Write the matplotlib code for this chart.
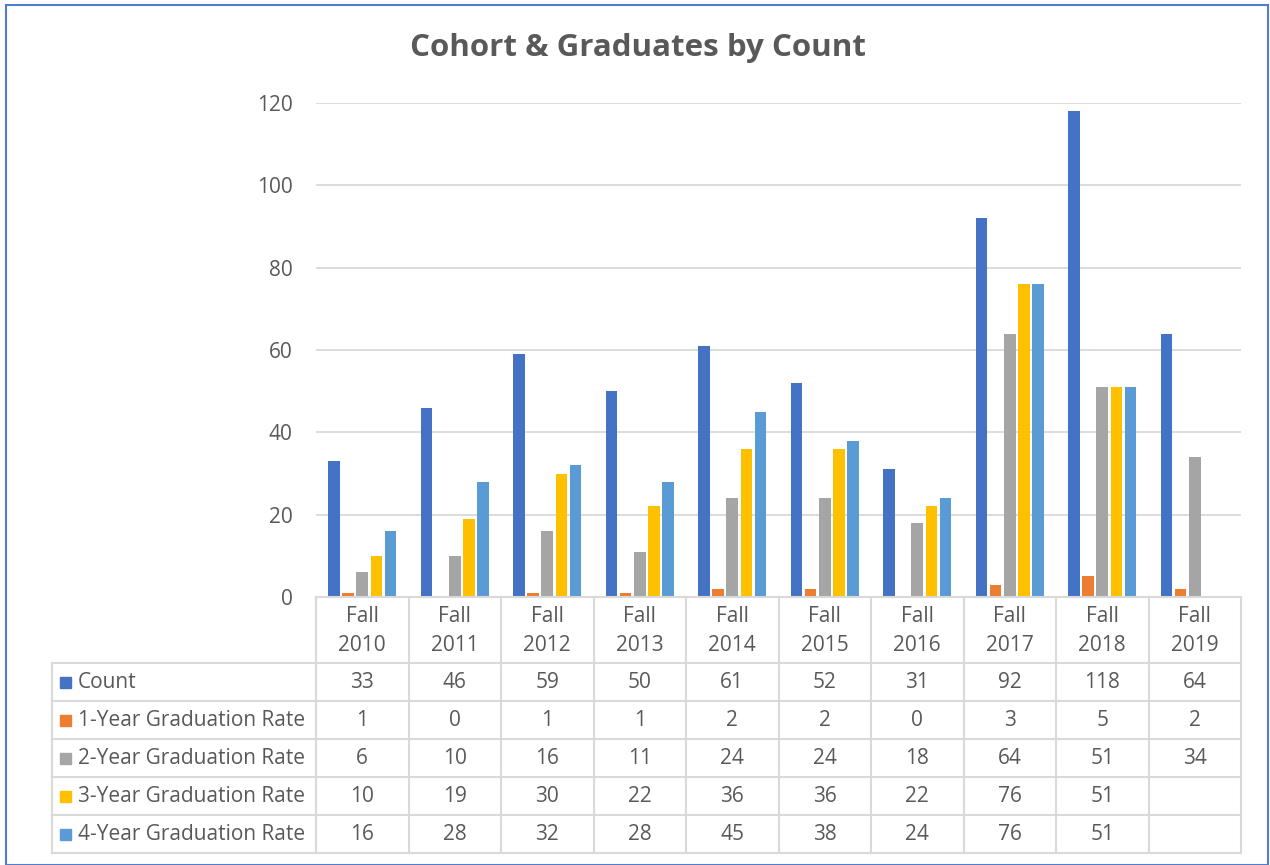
import numpy as np
import matplotlib.pyplot as plt
from matplotlib.patches import Rectangle

plt.rcParams['font.family'] = ['Open Sans', 'DejaVu Sans']

cohorts = ['Fall\n2010', 'Fall\n2011', 'Fall\n2012', 'Fall\n2013', 'Fall\n2014',
           'Fall\n2015', 'Fall\n2016', 'Fall\n2017', 'Fall\n2018', 'Fall\n2019']
count = [33, 46, 59, 50, 61, 52, 31, 92, 118, 64]
grad_1yr = [1, 0, 1, 1, 2, 2, 0, 3, 5, 2]
grad_2yr = [6, 10, 16, 11, 24, 24, 18, 64, 51, 34]
grad_3yr = [10, 19, 30, 22, 36, 36, 22, 76, 51, None]
grad_4yr = [16, 28, 32, 28, 45, 38, 24, 76, 51, None]

series_names = ['Count', '1-Year Graduation Rate', '2-Year Graduation Rate',
                '3-Year Graduation Rate', '4-Year Graduation Rate']
series = [count, grad_1yr, grad_2yr, grad_3yr, grad_4yr]
colors = ['#4472C4', '#ED7D31', '#A5A5A5', '#FFC000', '#5B9BD5']

W, H = 1270, 865
fig = plt.figure(figsize=(W / 100, H / 100), dpi=100)

text_col = '#595959'
grid_col = '#D9D9D9'
fs = 15

# plot area in pixels
px_left, px_right, px_top, px_bottom = 316, 1241, 103, 597
ax = fig.add_axes([px_left / W, 1 - px_bottom / H,
                   (px_right - px_left) / W, (px_bottom - px_top) / H])

n = len(cohorts)
x = np.arange(n)
bar_w = 0.125
step = 0.152
for i, (vals, c) in enumerate(zip(series, colors)):
    v = np.array([np.nan if a is None else a for a in vals], dtype=float)
    ax.bar(x + (i - 2) * step, v, width=bar_w, color=c, zorder=3)

ax.set_xlim(-0.5, n - 0.5)
ax.set_ylim(0, 120)
ax.set_yticks(np.arange(0, 121, 20))
ax.yaxis.grid(True, color=grid_col, linewidth=1.3, zorder=0)
ax.set_xticks([])
for s in ax.spines.values():
    s.set_visible(False)
ax.tick_params(axis='y', length=0, pad=17, labelsize=fs, labelcolor=text_col)

# data table below the plot
tbl_left = 52
label_w = (px_left - tbl_left) / ((px_right - px_left) / n)
row_edges = [597, 663, 701, 739, 777, 815, 853]
tax = fig.add_axes([tbl_left / W, 1 - row_edges[-1] / H,
                    (px_right - tbl_left) / W, (row_edges[-1] - row_edges[0]) / H])
tax.set_xlim(-0.5 - label_w, n - 0.5)
tax.set_ylim(row_edges[-1], row_edges[0])
tax.axis('off')

lw = 1.5
# horizontal lines
tax.plot([-0.5, n - 0.5], [row_edges[0]] * 2, color=grid_col, lw=lw, clip_on=False)
for y in row_edges[1:]:
    tax.plot([-0.5 - label_w, n - 0.5], [y, y], color=grid_col, lw=lw, clip_on=False)
# vertical lines
tax.plot([-0.5 - label_w] * 2, [row_edges[1], row_edges[-1]], color=grid_col, lw=lw, clip_on=False)
for k in range(n + 1):
    tax.plot([k - 0.5] * 2, [row_edges[0], row_edges[-1]], color=grid_col, lw=lw, clip_on=False)

# header
for k, lab in enumerate(cohorts):
    tax.text(k, (row_edges[0] + row_edges[1]) / 2 + 1, lab, ha='center', va='center',
             fontsize=fs, color=text_col, linespacing=1.5)

# rows
unit = 1 / ((px_right - px_left) / n)
for r, (name, vals, c) in enumerate(zip(series_names, series, colors)):
    yc = (row_edges[r + 1] + row_edges[r + 2]) / 2
    tax.add_patch(Rectangle((-0.5 - label_w + 8 * unit, yc - 5.5), 11 * unit, 11,
                            color=c, clip_on=False))
    tax.text(-0.5 - label_w + 26 * unit, yc, name, ha='left', va='center',
             fontsize=fs, color=text_col)
    for k, v in enumerate(vals):
        if v is not None:
            tax.text(k, yc, str(v), ha='center', va='center', fontsize=fs, color=text_col)

fig.text(638 / W, 1 - 48 / H, 'Cohort & Graduates by Count', ha='center', va='center',
         fontsize=22.5, fontweight='bold', color=text_col)

# chart border
fig.patches.append(Rectangle((6 / W, 0), (1268 - 6) / W, 1 - 5 / H, transform=fig.transFigure,
                             fill=False, edgecolor='#4F7DD0', linewidth=1.5))

fig.savefig('out.png', dpi=100)
